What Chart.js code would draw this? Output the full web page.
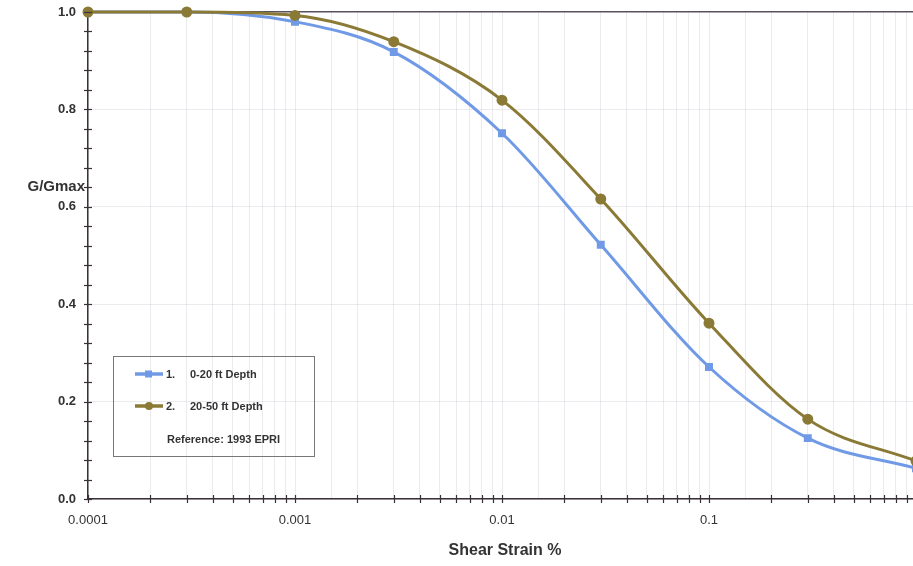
<!DOCTYPE html>
<html><head><meta charset="utf-8">
<script src="https://cdn.jsdelivr.net/npm/chart.js@4/dist/chart.umd.min.js"></script>
<style>
html,body{margin:0;padding:0;background:#fff;overflow:hidden;}
#wrap{width:923px;height:566px;}
</style></head>
<body><div id="wrap"><canvas id="c"></canvas></div>
<script>
const strain = [0.0001, 0.0003, 0.001, 0.003, 0.01, 0.03, 0.1, 0.3, 1];
const gShallow = [1.0, 1.0, 0.98, 0.918, 0.751, 0.522, 0.271, 0.125, 0.063];
const gDeep = [1.0, 1.0, 0.993, 0.939, 0.819, 0.616, 0.361, 0.164, 0.078];
const seriesNames = ["0-20 ft Depth", "20-50 ft Depth"];
const seriesNums = ["1.", "2."];
const legendNote = "Reference: 1993 EPRI";
const yTicks = [0, 0.2, 0.4, 0.6, 0.8, 1.0];
const xTickLabels = [0.0001, 0.001, 0.01, 0.1, 1];
const xTitle = "Shear Strain %";
const yTitle = "G/Gmax";

const blue = "#709ae6";
const olive = "#8a7a36";
const faint = "rgba(195,195,210,0.35)";

const extras = {
  id: "extras",
  afterDraw(chart) {
    const ctx = chart.ctx, x = chart.scales.x, y = chart.scales.y, a = chart.chartArea;
    ctx.save();
    ctx.strokeStyle = "#3a3038";
    ctx.lineWidth = 1.2;
    for (let i = 0; i <= 25; i++) {
      const py = Math.round(y.getPixelForValue(i * 0.04)) + 0.5;
      ctx.beginPath(); ctx.moveTo(a.left - 4, py); ctx.lineTo(a.left + 4, py); ctx.stroke();
    }
    for (let d = -4; d < 0; d++) {
      for (let m = 1; m <= 9; m++) {
        const v = m * Math.pow(10, d);
        const px = Math.round(x.getPixelForValue(v)) + 0.5;
        ctx.beginPath(); ctx.moveTo(px, a.bottom - 4); ctx.lineTo(px, a.bottom + 4); ctx.stroke();
      }
    }
    ctx.fillStyle = "#333";
    ctx.font = "bold 16px 'Liberation Sans', Arial, sans-serif";
    ctx.textAlign = "center"; ctx.textBaseline = "middle";
    ctx.fillText(xTitle, 505, 551);
    ctx.font = "bold 15px 'Liberation Sans', Arial, sans-serif";
    ctx.textAlign = "right";
    ctx.fillText(yTitle, 85, 187);
    ctx.strokeStyle = "#777"; ctx.lineWidth = 1;
    ctx.strokeRect(113.5, 356.5, 201, 100);
    const rows = [374, 406];
    const cols = [blue, olive];
    ctx.font = "bold 11px 'Liberation Sans', Arial, sans-serif";
    ctx.textAlign = "left";
    for (let i = 0; i < 2; i++) {
      ctx.strokeStyle = cols[i]; ctx.lineWidth = 3.5;
      ctx.beginPath(); ctx.moveTo(135, rows[i]); ctx.lineTo(163, rows[i]); ctx.stroke();
      ctx.fillStyle = cols[i];
      if (i === 0) { ctx.fillRect(145, rows[i] - 3.5, 7, 7); }
      else { ctx.beginPath(); ctx.arc(149, rows[i], 4, 0, Math.PI * 2); ctx.fill(); }
      ctx.fillStyle = "#333";
      ctx.fillText(seriesNums[i], 166, rows[i] + 1);
      ctx.fillText(seriesNames[i], 190, rows[i] + 1);
    }
    ctx.fillText(legendNote, 167, 440);
    ctx.restore();
  }
};

new Chart(document.getElementById("c"), {
  type: "line",
  data: {
    datasets: [
      { label: seriesNames[0], data: strain.map((v, i) => ({x: v, y: gShallow[i]})), order: 1,
        borderColor: blue, backgroundColor: blue, borderWidth: 3, pointStyle: "rect",
        pointRadius: 3.5, pointHoverRadius: 3.5, cubicInterpolationMode: "monotone", clip: false },
      { label: seriesNames[1], data: strain.map((v, i) => ({x: v, y: gDeep[i]})), order: 0,
        borderColor: olive, backgroundColor: olive, borderWidth: 3, pointStyle: "circle",
        pointRadius: 4, pointHoverRadius: 4, cubicInterpolationMode: "monotone", clip: false }
    ]
  },
  options: {
    responsive: true, maintainAspectRatio: false, animation: false,
    layout: { padding: { top: 12, right: 1, left: 0, bottom: 0 } },
    plugins: { legend: { display: false }, tooltip: { enabled: false } },
    scales: {
      x: {
        type: "logarithmic", min: 0.0001, max: 1,
        afterFit(s) { s.height = 67; s.paddingLeft = 0; s.paddingRight = 0; },
        border: { display: true, color: "#3a3038", width: 1.5 },
        grid: { drawTicks: false, color: faint, lineWidth: 1 },
        ticks: {
          autoSkip: false, maxRotation: 0, padding: 14, color: "#333",
          font: { family: "'Liberation Sans', Arial, sans-serif", size: 13 },
          callback(v) {
            const l = xTickLabels.find(t => Math.abs(t - v) / t < 1e-6);
            return l !== undefined && l < 1 ? String(l) : "";
          }
        }
      },
      y: {
        min: 0, max: 1,
        afterFit(s) { s.width = 88; s.paddingTop = 0; s.paddingBottom = 0; },
        afterBuildTicks(s) { s.ticks = yTicks.map(v => ({value: v})); },
        border: { display: true, color: "#3a3038", width: 1.5 },
        grid: { drawTicks: false,
          color: c => (c.tick && c.tick.value === 1 ? "#5a5060" : faint),
          lineWidth: c => (c.tick && c.tick.value === 1 ? 1.5 : 1) },
        ticks: {
          padding: 12, color: "#333",
          font: { family: "'Liberation Sans', Arial, sans-serif", size: 13, weight: "bold" },
          callback(v) { return Number(v).toFixed(1); }
        }
      }
    }
  },
  plugins: [extras]
});
</script></body></html>
